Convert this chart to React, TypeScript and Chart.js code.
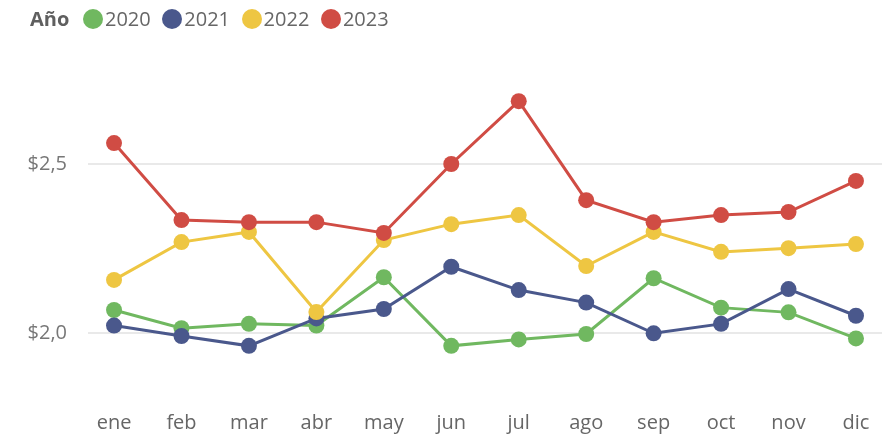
import React, { useEffect, useRef } from "react";
import { Chart, registerables } from "chart.js";

Chart.register(...registerables);

const months = ["ene", "feb", "mar", "abr", "may", "jun", "jul", "ago", "sep", "oct", "nov", "dic"];
const years = ["2020", "2021", "2022", "2023"];
const values2020 = [2.068, 2.014, 2.027, 2.022, 2.165, 1.962, 1.981, 1.997, 2.162, 2.075, 2.061, 1.984];
const values2021 = [2.022, 1.991, 1.962, 2.043, 2.071, 2.196, 2.127, 2.09, 1.999, 2.027, 2.13, 2.051];
const values2022 = [2.157, 2.269, 2.299, 2.062, 2.275, 2.322, 2.349, 2.198, 2.299, 2.24, 2.251, 2.263];
const values2023 = [2.562, 2.334, 2.328, 2.328, 2.296, 2.5, 2.686, 2.393, 2.328, 2.349, 2.358, 2.45];
const yTicks = [2.0, 2.5];
const seriesValues = [values2020, values2021, values2022, values2023];
const colors = ["#70B860", "#4A588C", "#EEC642", "#D04C44"];

const FONT = '"Segoe UI", "Open Sans", "Noto Sans", sans-serif';

export default function App() {
  const ref = useRef<HTMLCanvasElement | null>(null);

  useEffect(() => {
    if (!ref.current) return;
    const datasets = years.map((y, i) => ({
      label: y,
      data: seriesValues[i].map((v, j) => ({ x: j, y: v })),
      borderColor: colors[i],
      backgroundColor: colors[i],
      pointBackgroundColor: colors[i],
      pointBorderColor: colors[i],
      borderWidth: 3,
      pointRadius: 8,
      pointBorderWidth: 0,
      tension: 0,
      order: years.length - 1 - i,
    }));
    const chart = new Chart(ref.current, {
      type: "line",
      data: { datasets },
      options: {
        animation: false,
        responsive: false,
        maintainAspectRatio: false,
        layout: { padding: { top: 50, right: 12, left: 0, bottom: 0 } },
        plugins: { legend: { display: false }, tooltip: { enabled: false } },
        scales: {
          x: {
            type: "linear",
            min: -0.386,
            max: 11.386,
            afterBuildTicks: (s: any) => {
              s.ticks = months.map((_, i) => ({ value: i }));
            },
            afterFit: (s: any) => {
              s.height = 59;
              s.paddingLeft = 0;
              s.paddingRight = 0;
            },
            ticks: {
              autoSkip: false,
              maxRotation: 0,
              padding: 36,
              color: "#666666",
              font: { family: FONT, size: 20 },
              callback: (v: any) => months[Math.round(Number(v))] ?? "",
            },
            grid: { display: false, drawTicks: false },
            border: { display: false },
          },
          y: {
            min: 1.8757,
            max: 2.8373,
            afterBuildTicks: (s: any) => {
              s.ticks = yTicks.map((v) => ({ value: v }));
            },
            afterFit: (s: any) => {
              s.width = 88;
            },
            ticks: {
              padding: 21,
              color: "#777777",
              font: { family: FONT, size: 20 },
              callback: (v: any) => "$" + Number(v).toFixed(1).replace(".", ","),
            },
            grid: { color: "#E9E9E9", lineWidth: 2, drawTicks: false },
            border: { display: false },
          },
        },
      },
    });
    return () => chart.destroy();
  }, []);

  return (
    <div style={{ position: "absolute", left: 0, top: 0, width: 894, height: 434, background: "#fff", fontFamily: FONT }}>
      <canvas ref={ref} width={894} height={434} style={{ position: "absolute", left: 0, top: 0 }} />
      <div style={{ position: "absolute", left: 30, top: 5, fontSize: 20, fontWeight: 700, color: "#5F5F5F", lineHeight: "28px" }}>Año</div>
      {years.map((y, i) => (
        <div key={y} style={{ position: "absolute", left: 83 + i * 79.3, top: 5, height: 28, display: "flex", alignItems: "center" }}>
          <span style={{ display: "inline-block", width: 20, height: 20, borderRadius: 10, background: colors[i] }} />
          <span style={{ marginLeft: 2, fontSize: 20, color: "#666666", lineHeight: "28px" }}>{y}</span>
        </div>
      ))}
    </div>
  );
}
